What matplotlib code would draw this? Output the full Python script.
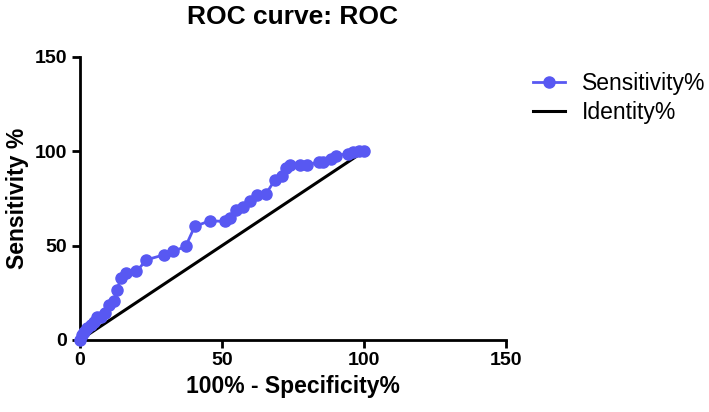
import matplotlib
matplotlib.use("Agg")
import matplotlib.pyplot as plt

fpr = [0, 0.6, 1.4, 2.6, 3.8, 5.0, 5.9, 7.4, 8.7, 10.3, 11.9, 13.1, 14.3, 16.3, 19.9,
       23.4, 29.5, 32.7, 37.2, 40.4, 45.8, 51.1, 52.7, 55.1, 57.5, 59.9, 62.3, 65.5,
       68.7, 71.2, 72.4, 73.9, 77.6, 80.0, 84.0, 85.6, 88.5, 90.1, 94.4, 96.0, 98.4, 100]
sens = [0, 2.7, 4.4, 6.2, 8.0, 9.7, 12.4, 12.4, 14.2, 18.6, 20.4, 26.5, 32.7, 35.4, 36.3,
        42.5, 45.1, 46.9, 49.6, 60.2, 63.2, 62.8, 64.6, 68.7, 70.3, 73.5, 77.0, 77.5,
        85.0, 86.7, 91.2, 92.9, 92.9, 92.9, 94.2, 94.2, 95.9, 97.7, 98.8, 99.6, 100, 100]
identity_x = [0, 100]
identity_y = [0, 100]
ticks = [0, 50, 100, 150]

plt.rcParams['font.family'] = ['Liberation Sans', 'DejaVu Sans']

fig = plt.figure(figsize=(7.09, 4.12), dpi=100)
ax = fig.add_axes([0.1128, 0.1748, 0.6009, 0.6869])

ax.plot(fpr, sens, color='#5858F2', lw=2, marker='o', ms=8, label='Sensitivity%',
        clip_on=False, zorder=3)
ax.plot(identity_x, identity_y, color='black', lw=2.2, label='Identity%', zorder=2)

ax.set_xlim(0, 150)
ax.set_ylim(0, 150)
ax.set_xticks(ticks)
ax.set_yticks(ticks)
for s in ['top', 'right']:
    ax.spines[s].set_visible(False)
for s in ['left', 'bottom']:
    ax.spines[s].set_linewidth(2)
ax.tick_params(direction='out', length=6, width=2, labelsize=14, pad=3)
for lbl in ax.get_xticklabels() + ax.get_yticklabels():
    lbl.set_fontweight('bold')

ax.set_xlabel('100% - Specificity%', fontsize=16.5, fontweight='bold', labelpad=4)
ax.set_ylabel('Sensitivity %', fontsize=16.5, fontweight='bold', labelpad=4)
ax.set_title('ROC curve: ROC', fontsize=19, fontweight='bold', pad=24)

leg = fig.legend(loc='upper left', bbox_to_anchor=(533 / 709, 1 - 72 / 412), frameon=False,
                 fontsize=16.5, handlelength=1.4, labelspacing=0.28, handletextpad=0.72,
                 borderpad=0, borderaxespad=0)

fig.savefig('out.png', dpi=100)
